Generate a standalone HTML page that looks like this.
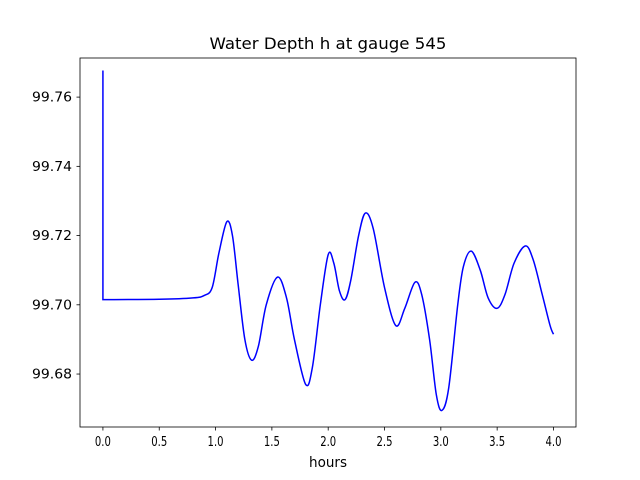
<!DOCTYPE html>
<html><head><meta charset="utf-8"><style>
body{margin:0;background:#fff;}
svg{display:block;font-family:"DejaVu Sans","Liberation Sans",sans-serif;}
</style></head><body>
<svg id="chart" width="640" height="480">
<rect width="640" height="480" fill="#fff"/>
<text x="328" y="49" text-anchor="middle" font-size="16" textLength="237" lengthAdjust="spacingAndGlyphs">Water Depth h at gauge 545</text>
<g id="axes"></g>
<path id="series" fill="none" stroke="#0000ff" stroke-width="1.5"/>
<rect x="80" y="58" width="496" height="369" fill="none" stroke="#000" stroke-width="0.8"/>
<text x="328" y="467" text-anchor="middle" font-size="14" textLength="38" lengthAdjust="spacingAndGlyphs">hours</text>
</svg>
<script>
const hours=[0,0,0.5,0.8,0.9,0.97,1.03,1.1,1.15,1.2,1.26,1.32,1.38,1.45,1.55,1.63,1.7,1.8,1.86,1.93,2.0,2.05,2.1,2.15,2.2,2.27,2.33,2.4,2.5,2.6,2.68,2.77,2.83,2.9,2.96,3.01,3.07,3.15,3.2,3.27,3.35,3.42,3.5,3.57,3.65,3.75,3.82,3.9,3.97,4.0];
const depth=[99.7677,99.7015,99.7016,99.7020,99.7027,99.705,99.715,99.724,99.720,99.706,99.690,99.684,99.688,99.700,99.708,99.702,99.690,99.677,99.682,99.700,99.7145,99.712,99.704,99.7015,99.707,99.720,99.7265,99.722,99.705,99.694,99.699,99.7065,99.703,99.690,99.674,99.6695,99.676,99.700,99.711,99.7155,99.710,99.702,99.699,99.703,99.712,99.717,99.713,99.703,99.694,99.6915];
const xTicks=[0,0.5,1,1.5,2,2.5,3,3.5,4];
const xTickLabels=["0.0","0.5","1.0","1.5","2.0","2.5","3.0","3.5","4.0"];
const yTicks=[99.68,99.70,99.72,99.74,99.76];
const yTickLabels=["99.68","99.70","99.72","99.74","99.76"];
const X0=80,X1=576,Y0=427,Y1=58,xmin=-0.2035,xmax=4.2,ymin=99.6647,ymax=99.7713;
const sx=v=>X0+(v-xmin)/(xmax-xmin)*(X1-X0);
const sy=v=>Y0-(v-ymin)/(ymax-ymin)*(Y0-Y1);
const NS="http://www.w3.org/2000/svg";
const ax=document.getElementById('axes');
function mk(t,a){const e=document.createElementNS(NS,t);for(const k in a)e.setAttribute(k,a[k]);ax.appendChild(e);return e;}
xTicks.forEach((v,i)=>{
 const l=mk('line',{x1:sx(v),x2:sx(v),y1:427,y2:430.5,stroke:'#000','stroke-width':0.8});
 
 
 const t=mk('text',{x:sx(v),y:446,'text-anchor':'middle','font-size':13,textLength:16,lengthAdjust:'spacingAndGlyphs'});
 t.textContent=xTickLabels[i];
 
 
});
yTicks.forEach((v,i)=>{
 const l=mk('line',{x1:76.5,x2:80,y1:sy(v),y2:sy(v),stroke:'#000','stroke-width':0.8});
 
 
 const t=mk('text',{x:72,y:sy(v)+4.5,'text-anchor':'end','font-size':13,textLength:40,lengthAdjust:'spacingAndGlyphs'});
 t.textContent=yTickLabels[i];
 
 
});
const P=hours.map((h,i)=>[sx(h),sy(depth[i])]);
let d=`M${P[0][0]},${P[0][1]}L${P[1][0]},${P[1][1]}`;
for(let i=1;i<P.length-1;i++){
 const p0=P[Math.max(i-1,1)],p1=P[i],p2=P[i+1],p3=P[Math.min(i+2,P.length-1)];
 const c1=[p1[0]+(p2[0]-p0[0])/6,p1[1]+(p2[1]-p0[1])/6];
 const c2=[p2[0]-(p3[0]-p1[0])/6,p2[1]-(p3[1]-p1[1])/6];
 d+=`C${c1[0]},${c1[1]} ${c2[0]},${c2[1]} ${p2[0]},${p2[1]}`;
}
document.getElementById('series').setAttribute('d',d);
</script>
</body></html>
